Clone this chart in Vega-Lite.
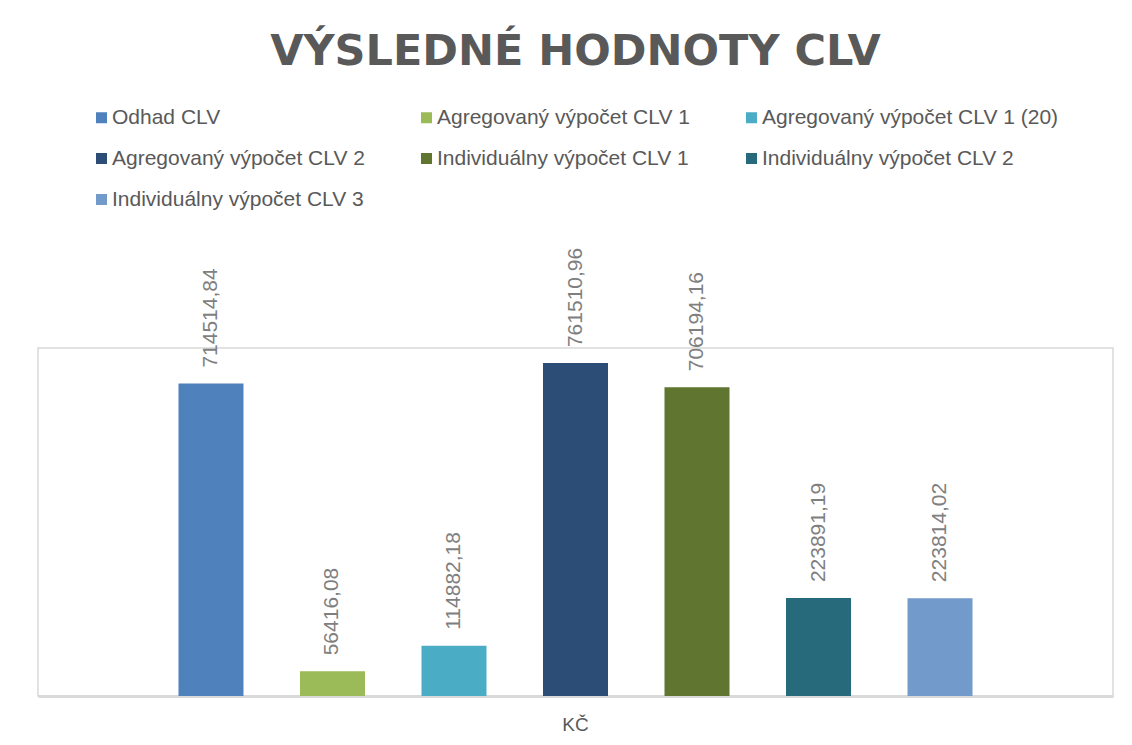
{
  "$schema": "https://vega.github.io/schema/vega-lite/v6.json",
  "width": 1075,
  "height": 348,
  "autosize": {"type": "none"},
  "padding": {"left": 38, "top": 348, "right": 19, "bottom": 49},
  "background": "white",
  "title": {
    "text": "VÝSLEDNÉ HODNOTY CLV",
    "font": "DejaVu Sans",
    "fontWeight": "bold",
    "fontSize": 43,
    "color": "#595959",
    "anchor": "middle",
    "frame": "group",
    "baseline": "alphabetic",
    "offset": -1
  },
  "data": {
    "values": [
      {"kategoria": "KČ", "rad": "Odhad CLV", "hodnota": 714514.84},
      {"kategoria": "KČ", "rad": "Agregovaný výpočet CLV 1", "hodnota": 56416.08},
      {"kategoria": "KČ", "rad": "Agregovaný výpočet CLV 1 (20)", "hodnota": 114882.18},
      {"kategoria": "KČ", "rad": "Agregovaný výpočet CLV 2", "hodnota": 761510.96},
      {"kategoria": "KČ", "rad": "Individuálny výpočet CLV 1", "hodnota": 706194.16},
      {"kategoria": "KČ", "rad": "Individuálny výpočet CLV 2", "hodnota": 223891.19},
      {"kategoria": "KČ", "rad": "Individuálny výpočet CLV 3", "hodnota": 223814.02}
    ]
  },
  "encoding": {
    "x": {
      "field": "kategoria",
      "type": "nominal",
      "scale": {"paddingInner": 0, "paddingOuter": 0.0183},
      "axis": {
        "title": null,
        "labelAngle": 0,
        "ticks": false,
        "domainColor": "#d9d9d9",
        "domainWidth": 3,
        "labelFont": "Liberation Sans",
        "labelFontSize": 19,
        "labelColor": "#595959",
        "labelPadding": 19
      }
    },
    "xOffset": {
      "field": "rad",
      "type": "nominal",
      "sort": null,
      "scale": {"paddingInner": 0.465, "paddingOuter": 1}
    },
    "y": {
      "field": "hodnota",
      "type": "quantitative",
      "scale": {"domain": [0, 796000]},
      "axis": null
    }
  },
  "layer": [
    {
      "mark": {"type": "bar"},
      "encoding": {
        "color": {
          "field": "rad",
          "type": "nominal",
          "scale": {
            "domain": ["Odhad CLV", "Agregovaný výpočet CLV 1", "Agregovaný výpočet CLV 1 (20)", "Agregovaný výpočet CLV 2", "Individuálny výpočet CLV 1", "Individuálny výpočet CLV 2", "Individuálny výpočet CLV 3"],
            "range": ["#4f81bd", "#9bbb59", "#4bacc6", "#2c4d75", "#5f7530", "#276a7c", "#729aca"]
          },
          "legend": {
            "title": null,
            "orient": "none",
            "direction": "horizontal",
            "legendX": 53,
            "legendY": -241,
            "columns": 3,
            "columnPadding": 51,
            "rowPadding": 19,
            "padding": 0,
            "symbolType": "square",
            "symbolSize": 121,
            "symbolStrokeWidth": 0,
            "labelOffset": 0,
            "labelFont": "Liberation Sans",
            "labelFontSize": 21,
            "labelColor": "#595959",
            "labelLimit": 500
          }
        }
      }
    },
    {
      "mark": {
        "type": "text",
        "angle": 270,
        "align": "left",
        "baseline": "middle",
        "dx": 16,
        "font": "Liberation Sans",
        "fontSize": 21,
        "color": "#7f7f7f"
      },
      "encoding": {
        "text": {"field": "hodnota", "type": "quantitative", "format": ".2f"}
      }
    }
  ],
  "config": {
    "view": {"stroke": "#d9d9d9", "strokeWidth": 1.5},
    "locale": {
      "number": {"decimal": ",", "thousands": "", "grouping": [3], "currency": ["", " Kč"]}
    }
  }
}
